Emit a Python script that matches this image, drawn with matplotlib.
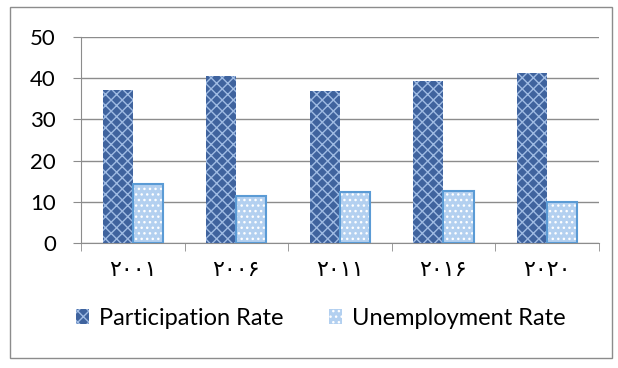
import numpy as np
import matplotlib
matplotlib.use("Agg")
import matplotlib.pyplot as plt
from matplotlib.patches import Patch, Rectangle

# data
years = ["۲۰۰۱", "۲۰۰۶", "۲۰۱۱", "۲۰۱۶", "۲۰۲۰"]
participation = [37.1, 40.5, 37.0, 39.4, 41.3]
unemployment = [14.3, 11.4, 12.4, 12.5, 9.9]

plt.rcParams['font.family'] = ['Lato', 'DejaVu Sans']
plt.rcParams['hatch.linewidth'] = 1.0

fig = plt.figure(figsize=(6.18, 3.68), dpi=100)
fig.patches.append(Rectangle((0.016, 0.027), 0.975, 0.953, transform=fig.transFigure,
                             fill=False, edgecolor='#8c8c8c', linewidth=1))
ax = fig.add_axes([0.131, 0.340, 0.838, 0.559])

x = np.arange(len(years))
w = 0.29
part_c = '#3f639e'
part_h = '#9fbbe3'
unemp_c = '#b3d0f0'
unemp_edge = '#5b9bd5'

ax.bar(x - w / 2, participation, w, color=part_c, edgecolor=part_h, hatch='xxx', linewidth=0, zorder=3)
ax.bar(x + w / 2, unemployment, w, color=unemp_c, edgecolor='white', hatch='...', linewidth=0, zorder=3)
ax.bar(x + w / 2, unemployment, w, fill=False, edgecolor=unemp_edge, linewidth=1.5, zorder=4)

ax.set_xlim(-0.5, len(years) - 0.5)
ax.set_ylim(0, 50)
ax.set_yticks(range(0, 51, 10))
ax.yaxis.grid(True, color='#8c8c8c', linewidth=1)
ax.set_axisbelow(True)
for s in ['top', 'right']:
    ax.spines[s].set_visible(False)
ax.spines['left'].set_color('#8c8c8c')
ax.spines['bottom'].set_color('#8c8c8c')
ax.tick_params(axis='y', length=6, color='#8c8c8c', labelsize=16, pad=12)
ax.set_xticks(x)
ax.set_xticklabels(years, family=['DejaVu Sans'], fontsize=16)
ax.tick_params(axis='x', which='major', length=0, pad=12)
ax.set_xticks(np.arange(-0.5, len(years)), minor=True)
ax.tick_params(axis='x', which='minor', length=6, color='#8c8c8c')

handles = [Patch(facecolor=part_c, edgecolor=part_h, hatch='xxx', linewidth=0),
           Patch(facecolor=unemp_c, edgecolor='white', hatch='...', linewidth=0)]
fig.legend(handles, ['Participation Rate', 'Unemployment Rate'], loc='center',
           bbox_to_anchor=(0.519, 0.135), ncol=2, frameon=False, fontsize=17,
           handlelength=0.55, handleheight=0.55, handletextpad=0.42, columnspacing=1.9)

fig.savefig('out.png', dpi=100)
